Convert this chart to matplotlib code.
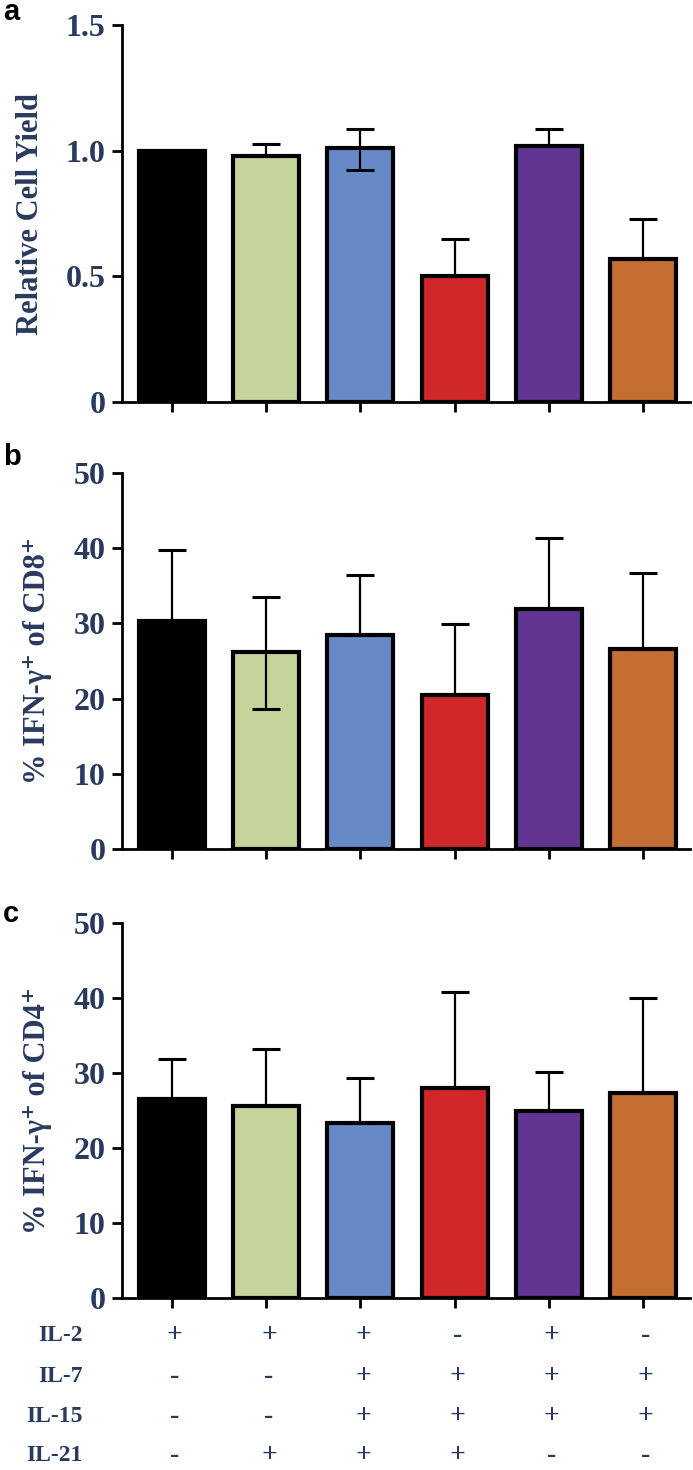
import matplotlib
matplotlib.use("Agg")
import matplotlib.pyplot as plt
import numpy as np

# Conditions (IL-2, IL-7, IL-15, IL-21 combinations)
cytokines = ["IL-2", "IL-7", "IL-15", "IL-21"]
il2 = ["+", "+", "+", "-", "+", "-"]
il7 = ["-", "-", "+", "+", "+", "+"]
il15 = ["-", "-", "+", "+", "+", "+"]
il21 = ["-", "+", "+", "+", "-", "-"]

bar_colors = ["#000000", "#C6D39B", "#6789C5", "#CF272A", "#613591", "#C56E33"]

# Panel a - relative cell yield
yield_mean = [1.00, 0.98, 1.01, 0.50, 1.02, 0.57]
yield_up = [0.00, 0.045, 0.078, 0.148, 0.066, 0.16]
yield_low = [0.00, 0.00, 0.087, 0.00, 0.00, 0.00]

# Panel b - % IFN-g+ of CD8+
cd8_mean = [30.3, 26.2, 28.5, 20.5, 31.9, 26.6]
cd8_up = [9.5, 7.3, 8.0, 9.4, 9.5, 10.1]
cd8_low = [0.0, 7.6, 0.0, 0.0, 0.0, 0.0]

# Panel c - % IFN-g+ of CD4+
cd4_mean = [26.6, 25.6, 23.4, 28.0, 25.0, 27.3]
cd4_up = [5.3, 7.6, 5.9, 12.8, 5.1, 12.7]
cd4_low = [0.0, 0.0, 0.0, 0.0, 0.0, 0.0]

navy = "#2A3A5E"
serif = ["Liberation Serif", "DejaVu Serif"]

fig = plt.figure(figsize=(6.93, 14.7), dpi=100)
ax_a = fig.add_axes([0.176, 0.7265, 0.82, 0.2565])
ax_b = fig.add_axes([0.176, 0.4224, 0.82, 0.2558])
ax_c = fig.add_axes([0.176, 0.117, 0.82, 0.2551])

x = np.arange(len(bar_colors))


def draw_panel(ax, mean, up, low, ymax, yticks, yticklabels, ylabel, letter, letter_y):
    ax.bar(x, mean, width=0.7, color=bar_colors, edgecolor="black",
           linewidth=3.0, zorder=2)
    ax.errorbar(x, mean, yerr=[low, up], fmt="none", ecolor="black",
                elinewidth=1.6, capsize=10, capthick=2.2, zorder=3)
    ax.set_xlim(-0.53, 5.5)
    ax.set_ylim(0, ymax)
    ax.spines["top"].set_visible(False)
    ax.spines["right"].set_visible(False)
    ax.spines["left"].set_linewidth(2.0)
    ax.spines["bottom"].set_linewidth(2.0)
    ax.set_xticks(x)
    ax.set_xticklabels([])
    ax.set_yticks(yticks)
    ax.set_yticklabels(yticklabels, family=serif, fontweight="bold",
                       fontsize=23, color=navy)
    ax.tick_params(axis="both", direction="out", length=7, width=2.0)
    ax.tick_params(axis="y", pad=5)
    ax.set_ylabel(ylabel, family=serif, fontweight="bold", fontsize=22,
                  color=navy, labelpad=15)
    ax.text(-0.21, letter_y, letter, transform=ax.transAxes, fontsize=21,
            fontweight="bold", family="Liberation Sans", ha="left",
            va="baseline")


draw_panel(ax_a, yield_mean, yield_up, yield_low, 1.5,
           [0, 0.5, 1.0, 1.5], ["0", "0.5", "1.0", "1.5"],
           "Relative Cell Yield", "a", 1.013)
draw_panel(ax_b, cd8_mean, cd8_up, cd8_low, 50,
           [0, 10, 20, 30, 40, 50], ["0", "10", "20", "30", "40", "50"],
           "% IFN-γ⁺ of CD8⁺", "b", 1.021)
draw_panel(ax_c, cd4_mean, cd4_up, cd4_low, 50,
           [0, 10, 20, 30, 40, 50], ["0", "10", "20", "30", "40", "50"],
           "% IFN-γ⁺ of CD4⁺", "c", 1.003)

# condition table under panel c
rows = [il2, il7, il15, il21]
row_y = [-0.099, -0.21, -0.317, -0.419]
trans = ax_c.get_xaxis_transform()
for name, signs, yy in zip(cytokines, rows, row_y):
    ax_c.text(-0.95, yy, name, transform=trans, ha="right", va="center",
              family=serif, fontweight="bold", fontsize=17, color=navy,
              clip_on=False)
    for xi, s in zip(x, signs):
        ax_c.text(xi + 0.03, yy, s, transform=trans, ha="center", va="center",
                  family=serif, fontweight="bold", fontsize=20, color=navy,
                  clip_on=False)

fig.savefig("out.png", dpi=100)
